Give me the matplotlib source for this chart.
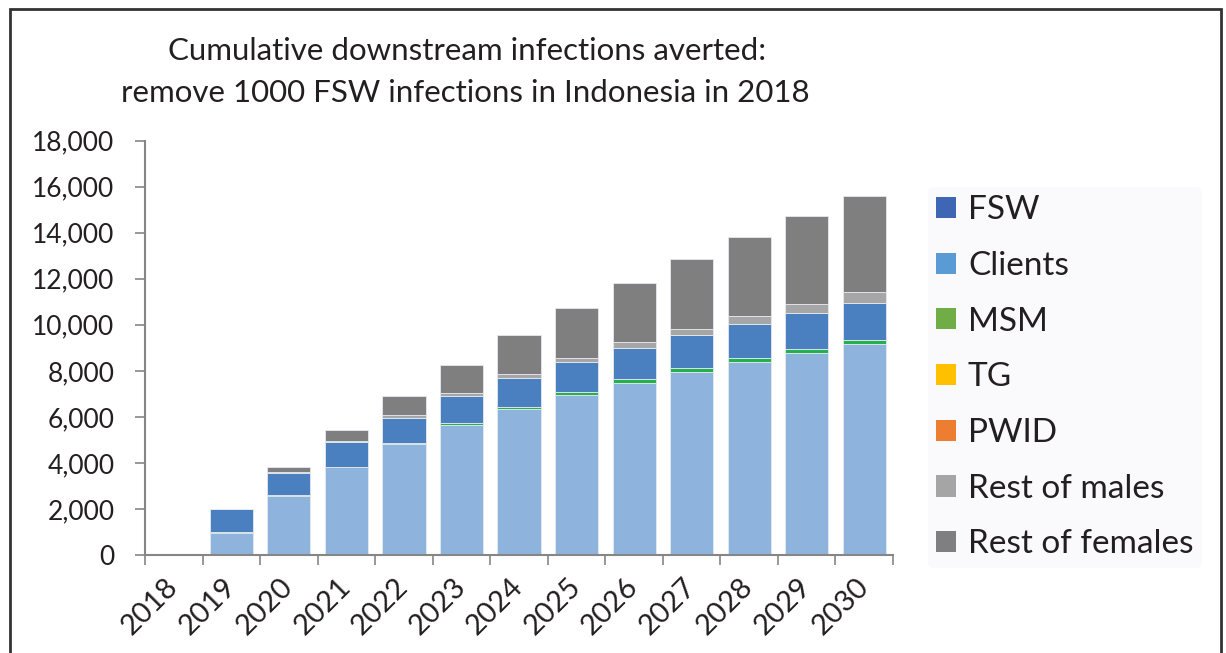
import matplotlib
matplotlib.use("Agg")
import matplotlib.pyplot as plt
import numpy as np
from matplotlib.patches import Patch, Rectangle

plt.rcParams['font.family'] = ['Lato', 'DejaVu Sans']

years = ['2018', '2019', '2020', '2021', '2022', '2023', '2024',
         '2025', '2026', '2027', '2028', '2029', '2030']

# cumulative infections averted
clients = [0, 970, 2550, 3810, 4810, 5650, 6340, 6950, 7490, 7965, 8385, 8790, 9165]
msm = [0, 10, 40, 30, 55, 70, 100, 120, 140, 145, 170, 170, 175]
tg = [0, 0, 0, 0, 0, 0, 0, 0, 0, 0, 0, 0, 0]
pwid = [0, 0, 0, 0, 0, 0, 0, 0, 0, 0, 0, 0, 0]
fsw = [0, 1010, 985, 1055, 1100, 1200, 1250, 1330, 1375, 1445, 1500, 1565, 1620]
rest_males = [0, 0, 40, 70, 100, 100, 160, 175, 235, 275, 330, 390, 465]
rest_females = [0, 0, 195, 465, 825, 1245, 1695, 2160, 2560, 3015, 3440, 3810, 4170]

# stacking order in the bars (bottom to top) and the bar colours
stack = [
    (clients, '#8EB4DE'),
    (msm, '#22B14C'),
    (tg, '#FFC000'),
    (pwid, '#ED7D31'),
    (fsw, '#4A7FC0'),
    (rest_males, '#A6A6A6'),
    (rest_females, '#7F7F7F'),
]

legend_names = ['FSW', 'Clients', 'MSM', 'TG', 'PWID', 'Rest of males', 'Rest of females']
legend_colors = ['#3F66B5', '#5B9BD5', '#70AD47', '#FFC000', '#ED7D31', '#A5A5A5', '#7F7F7F']

txt = '#231F20'

fig = plt.figure(figsize=(12.26, 6.53), dpi=100)
ax = fig.add_axes([0.1183, 0.1501, 0.6101, 0.6345])

x = np.arange(len(years))
bottom = np.zeros(len(years))
for vals, col in stack:
    v = np.array(vals, dtype=float)
    ax.bar(x, v, 0.75, bottom=bottom, color=col, edgecolor='#E6E9EE', linewidth=0.6)
    bottom += v

ax.set_xlim(-0.5, len(years) - 0.5)
ax.set_ylim(0, 18000)
ax.set_yticks(np.arange(0, 18001, 2000))
ax.set_yticklabels([f'{int(t):,}' for t in np.arange(0, 18001, 2000)], fontsize=19, color=txt)
ax.set_xticks(x)
ax.set_xticklabels(years, rotation=45, ha='right', va='center',
                   rotation_mode='anchor', fontsize=21, color=txt)
ax.set_xticks(np.arange(-0.5, len(years)), minor=True)
ax.tick_params(axis='x', which='major', length=0, pad=20)
ax.tick_params(axis='x', which='minor', length=7, width=1.2, color='#868686')
ax.tick_params(axis='y', length=7, width=1.2, color='#868686', pad=15)

for s in ['top', 'right']:
    ax.spines[s].set_visible(False)
for s in ['left', 'bottom']:
    ax.spines[s].set_color('#868686')
    ax.spines[s].set_linewidth(1.5)

fig.text(467 / 1226, 1 - 51 / 653, 'Cumulative downstream infections averted:',
         ha='center', va='center', fontsize=22.5, color=txt)
fig.text(465 / 1226, 1 - 93 / 653, 'remove 1000 FSW infections in Indonesia in 2018',
         ha='center', va='center', fontsize=22.5, color=txt)

handles = [Patch(facecolor=c, edgecolor='none') for c in legend_colors]
leg = fig.legend(handles, legend_names, loc='upper left',
                 bbox_to_anchor=(928 / 1226, 1 - 187 / 653),
                 fontsize=24, frameon=True, facecolor='#FAFAFC', edgecolor='none',
                 framealpha=1, handlelength=0.6, handleheight=0.6,
                 handletextpad=0.35, labelspacing=0.77, borderpad=0.25,
                 borderaxespad=0)
for t in leg.get_texts():
    t.set_color(txt)

# outer frame of the picture
fig.patches.append(Rectangle((10 / 1226, -0.05), 1211 / 1226, 1.05 - 9 / 653,
                             transform=fig.transFigure, fill=False,
                             edgecolor='#333333', linewidth=2))

fig.savefig('out.png', dpi=100)
